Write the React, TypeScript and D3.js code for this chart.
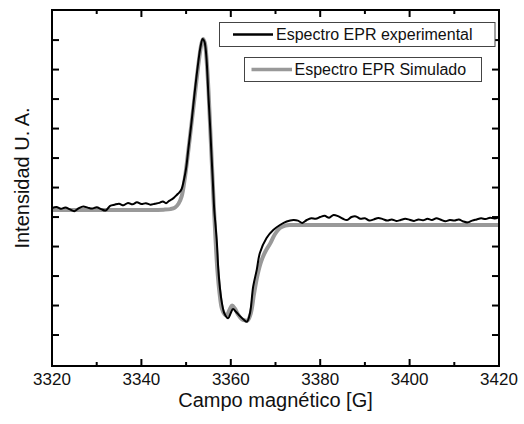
import React from "react";
import * as d3 from "d3";

// Field values (G) and intensities (arbitrary units)
const simField = [3320, 3340, 3345, 3346.5, 3347.5, 3348.3, 3349, 3349.7, 3350.3, 3351, 3351.7, 3352.3, 3352.9, 3353.4, 3353.8, 3354.2, 3354.6, 3355.0, 3355.4, 3355.8, 3356.2, 3356.6, 3357.0, 3357.5, 3358.0, 3358.6, 3359.1, 3359.7, 3360.3, 3360.9, 3361.6, 3362.4, 3363.1, 3363.8, 3364.5, 3365.2, 3366.0, 3366.8, 3367.8, 3368.8, 3369.8, 3371.0, 3372.2, 3373.5, 3380, 3420];
const simValue = [-0.76, -0.76, -0.75, -0.73, -0.68, -0.55, -0.3, 0.3, 1.0, 1.9, 2.8, 3.6, 4.35, 4.85, 5.04, 4.9, 4.3, 3.3, 2.0, 0.7, -0.6, -1.8, -2.8, -3.6, -4.1, -4.3, -4.33, -4.15, -4.0, -4.1, -4.3, -4.45, -4.5, -4.5, -4.25, -3.6, -2.95, -2.5, -2.15, -1.9, -1.6, -1.37, -1.29, -1.27, -1.27, -1.27];

const expField = [3320, 3321, 3322, 3323, 3324, 3325, 3326, 3327, 3328, 3329, 3330, 3331, 3332, 3333, 3334, 3335, 3336, 3337, 3338, 3339, 3340, 3341, 3342, 3343, 3344, 3344.8, 3345.5, 3346.2, 3346.8, 3347.4, 3347.9, 3348.4, 3349.0, 3349.5, 3350.0, 3350.5, 3351.2, 3351.9, 3352.6, 3353.2, 3353.7, 3354.1, 3354.5, 3355.0, 3355.4, 3355.7, 3356.0, 3356.3, 3356.6, 3356.9, 3357.2, 3357.6, 3358.0, 3358.6, 3359.4, 3360.0, 3360.5, 3361.2, 3362.0, 3362.9, 3363.6, 3364.3, 3365.0, 3365.8, 3366.5, 3368.0, 3369.5, 3371.0, 3372.5, 3374, 3375, 3376, 3377, 3378, 3379, 3380, 3381, 3382, 3383, 3384, 3385, 3386, 3387, 3388, 3389, 3390, 3391, 3392, 3393, 3394, 3395, 3396, 3397, 3398, 3399, 3400, 3401, 3402, 3403, 3404, 3405, 3406, 3407, 3408, 3409, 3410, 3411, 3412, 3413, 3414, 3415, 3416, 3417, 3418, 3419, 3420];
const expValue = [-0.70, -0.66, -0.72, -0.68, -0.74, -0.80, -0.70, -0.64, -0.68, -0.71, -0.67, -0.73, -0.78, -0.62, -0.58, -0.55, -0.60, -0.52, -0.57, -0.50, -0.56, -0.53, -0.58, -0.55, -0.52, -0.47, -0.53, -0.45, -0.40, -0.33, -0.25, -0.18, -0.05, 0.25, 0.65, 1.3, 2.2, 3.2, 4.1, 4.75, 5.04, 4.95, 4.5, 3.1, 2.0, 1.05, 0.15, -0.76, -1.3, -1.9, -2.75, -3.45, -3.9, -4.28, -4.43, -4.25, -4.12, -4.22, -4.35, -4.48, -4.55, -4.25, -3.36, -2.79, -2.22, -1.71, -1.44, -1.27, -1.15, -1.10, -1.12, -1.20, -1.10, -1.04, -1.06, -1.00, -0.96, -1.02, -0.93, -0.97, -1.05, -1.10, -1.00, -0.98, -1.06, -1.04, -1.12, -1.08, -1.03, -1.07, -1.12, -1.08, -1.13, -1.10, -1.06, -1.09, -1.13, -1.08, -1.11, -1.06, -1.10, -1.04, -1.09, -1.14, -1.10, -1.12, -1.08, -1.15, -1.18, -1.12, -1.08, -1.04, -1.07, -1.02, -1.05, -1.00];

const xMajorTicks = [3320, 3340, 3360, 3380, 3400, 3420];
const xMinorTicks = [3330, 3350, 3370, 3390, 3410];
const yTicks = [-5, -4, -3, -2, -1, 0, 1, 2, 3, 4, 5];

const legendLabels = ["Espectro EPR experimental", "Espectro EPR Simulado"];
const xTitle = "Campo magnético [G]";
const yTitle = "Intensidad U. A.";

const FONT = "'Liberation Sans', Arial, sans-serif";

export default function App() {
  const left = 52, right = 499, top = 10, bottom = 366;
  const x = d3.scaleLinear().domain([3320, 3420]).range([left, right]);
  const y = d3.scaleLinear().domain([-6.05, 6.02]).range([bottom, top]);

  const line = d3
    .line<[number, number]>()
    .x((d) => x(d[0]))
    .y((d) => y(d[1]))
    .curve(d3.curveCatmullRom.alpha(0.5));

  const simPts = simField.map((f, i) => [f, simValue[i]] as [number, number]);
  const expPts = expField.map((f, i) => [f, expValue[i]] as [number, number]);

  const major = 7, minor = 4;

  return (
    <svg
      width={524}
      height={424}
      style={{ position: "absolute", left: 0, top: 0, background: "#fff" }}
      fontFamily={FONT}
    >
      <rect x={0} y={0} width={524} height={424} fill="#fff" />
      <defs>
        <clipPath id="plotclip">
          <rect x={left} y={top} width={right - left} height={bottom - top} />
        </clipPath>
      </defs>
      <g clipPath="url(#plotclip)">
        <path d={line(simPts) || ""} fill="none" stroke="#999" strokeWidth={4} strokeLinejoin="round" />
        <path d={line(expPts) || ""} fill="none" stroke="#000" strokeWidth={2} strokeLinejoin="round" />
      </g>

      {/* ticks */}
      {xMajorTicks.map((t) => (
        <g key={"xM" + t}>
          <line x1={x(t)} x2={x(t)} y1={bottom} y2={bottom - major} stroke="#000" strokeWidth={2} />
          <line x1={x(t)} x2={x(t)} y1={top} y2={top + major} stroke="#000" strokeWidth={2} />
          <text x={x(t)} y={385} textAnchor="middle" fontSize={17} fill="#111">
            {t}
          </text>
        </g>
      ))}
      {xMinorTicks.map((t) => (
        <g key={"xm" + t}>
          <line x1={x(t)} x2={x(t)} y1={bottom} y2={bottom - minor} stroke="#000" strokeWidth={2} />
          <line x1={x(t)} x2={x(t)} y1={top} y2={top + minor} stroke="#000" strokeWidth={2} />
        </g>
      ))}
      {yTicks.map((t) => (
        <g key={"y" + t}>
          <line x1={left} x2={left + major} y1={y(t)} y2={y(t)} stroke="#000" strokeWidth={2} />
          <line x1={right} x2={right - major} y1={y(t)} y2={y(t)} stroke="#000" strokeWidth={2} />
        </g>
      ))}

      {/* frame */}
      <rect x={left} y={top} width={right - left} height={bottom - top} fill="none" stroke="#000" strokeWidth={2} />

      {/* legend */}
      <rect x={219.5} y={22.5} width={275.5} height={24} fill="#fff" stroke="#444" strokeWidth={1} />
      <line x1={233} x2={273} y1={34.5} y2={34.5} stroke="#000" strokeWidth={2.5} />
      <text x={276} y={40} fontSize={16} fill="#111">{legendLabels[0]}</text>

      <rect x={244.5} y={57.5} width={237} height={24} fill="#fff" stroke="#444" strokeWidth={1} />
      <line x1={251.5} x2={292} y1={69.5} y2={69.5} stroke="#999" strokeWidth={3.5} />
      <text x={294.5} y={75} fontSize={16} fill="#111">{legendLabels[1]}</text>

      {/* titles */}
      <text x={(left + right) / 2} y={407} textAnchor="middle" fontSize={20} fill="#111">
        {xTitle}
      </text>
      <text transform="translate(29,178) rotate(-90)" textAnchor="middle" fontSize={20} fill="#111">
        {yTitle}
      </text>
    </svg>
  );
}
